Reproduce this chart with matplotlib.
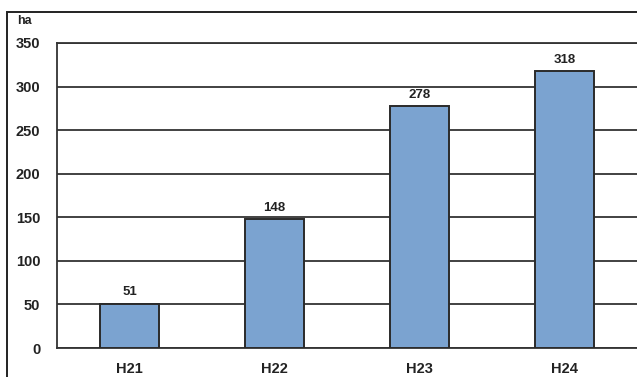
import matplotlib.pyplot as plt
from matplotlib.patches import Rectangle

plt.rcParams["font.family"] = ["Liberation Sans", "DejaVu Sans"]

years = ["H21", "H22", "H23", "H24"]
area_ha = [51, 148, 278, 318]
y_ticks = [0, 50, 100, 150, 200, 250, 300, 350]

fig = plt.figure(figsize=(6.37, 3.77), dpi=100)
fig.patch.set_facecolor("white")

# outer frame of the chart
fig.patches.append(Rectangle((7 / 637, -0.01), 1.0, 1 - 12 / 377 + 0.01,
                             transform=fig.transFigure, fill=False,
                             edgecolor="#222222", linewidth=1.4))

ax = fig.add_axes([57 / 637, 1 - 348 / 377, 1 - 57 / 637, (348 - 43) / 377])

x = range(len(years))
bars = ax.bar(x, area_ha, width=0.41, color="#7ba3d0",
              edgecolor="#2a2a2a", linewidth=1.4, zorder=3)

for xi, v in zip(x, area_ha):
    ax.text(xi, v + 6, str(v), ha="center", va="bottom",
            fontsize=9.5, fontweight="bold", color="#222222")

ax.set_xlim(-0.5, 3.5)
ax.set_ylim(0, 350)
ax.set_yticks(y_ticks)
ax.set_xticks(list(x))
ax.set_xticklabels(years)
ax.tick_params(axis="both", length=0, labelsize=10.5, colors="#222222")
for lab in ax.get_xticklabels() + ax.get_yticklabels():
    lab.set_fontweight("bold")
ax.tick_params(axis="y", pad=12)
ax.tick_params(axis="x", pad=10)

ax.yaxis.grid(True, color="#333333", linewidth=1.3, zorder=0)
for side in ["left", "bottom", "top"]:
    ax.spines[side].set_color("#333333")
    ax.spines[side].set_linewidth(1.3)
ax.spines["top"].set_linestyle((0, (6, 1)))
ax.spines["right"].set_visible(False)

fig.text(17 / 637, 1 - 21 / 377, "ha", fontsize=9, fontweight="bold",
         color="#222222", va="center", ha="left")

fig.savefig("out.png", dpi=100)
